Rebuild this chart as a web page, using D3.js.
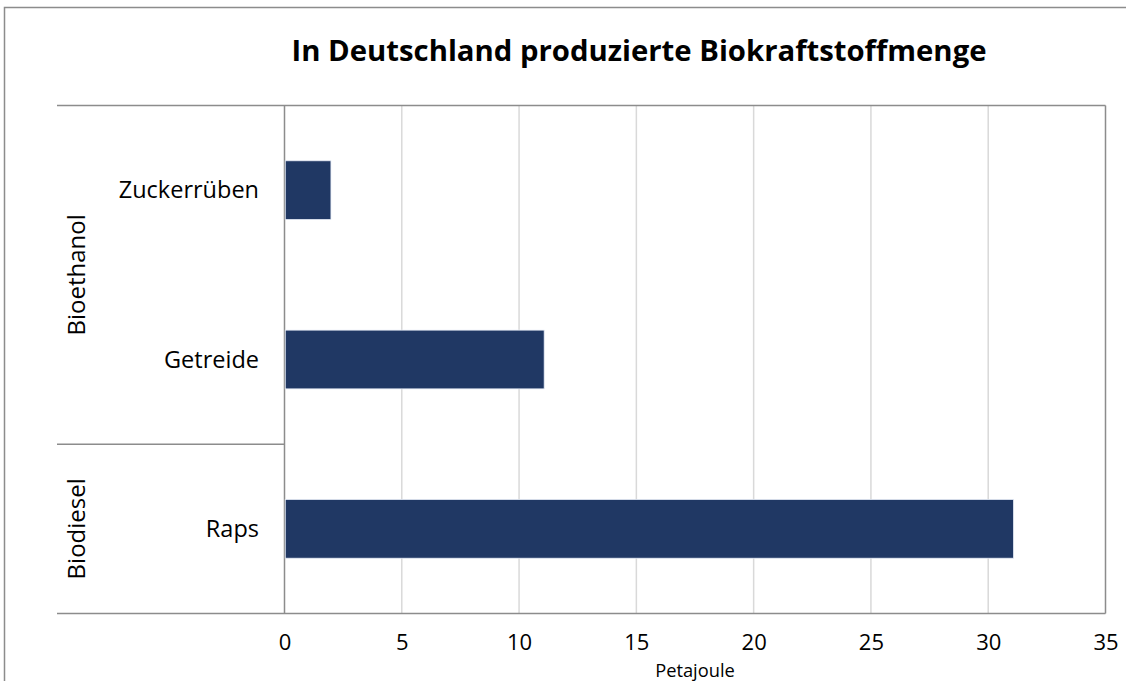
<!DOCTYPE html>
<html>
<head>
<meta charset="utf-8">
<script src="https://cdn.jsdelivr.net/npm/d3@7"></script>
<style>
  body { margin: 0; background: #fff; }
  text { font-family: "Open Sans", sans-serif; fill: #000; }
</style>
</head>
<body>
<svg width="1126" height="681"></svg>
<script>
// data
var categories = ["Zuckerrüben", "Getreide", "Raps"];
var groupOf = ["Bioethanol", "Bioethanol", "Biodiesel"];
var groups = ["Bioethanol", "Biodiesel"];
var values = [1.98, 11.07, 31.08];
var xTicks = [0, 5, 10, 15, 20, 25, 30, 35];
var title = "In Deutschland produzierte Biokraftstoffmenge";
var xTitle = "Petajoule";

var svg = d3.select("svg");

// outer frame, cut off at right and bottom like the picture
svg.append("rect")
    .attr("x", 4.5).attr("y", 7.5)
    .attr("width", 1140).attr("height", 700)
    .attr("fill", "none")
    .attr("stroke", "#8c8c8c")
    .attr("stroke-width", 1.5);

var plotL = 284.5, plotR = 1105.5, plotT = 105.5, plotB = 613.5;
var catLeft = 57;

var x = d3.scaleLinear().domain([0, 35]).range([plotL, plotR]);
var y = d3.scaleBand().domain(categories).range([plotT, plotB])
    .paddingInner(0.653).paddingOuter(0.3265);
var yStep = d3.scaleBand().domain(categories).range([plotT, plotB]);

svg.append("text")
    .attr("x", 639).attr("y", 61)
    .attr("text-anchor", "middle")
    .attr("font-size", "29.3px")
    .attr("font-weight", "bold")
    .text(title);

// gridlines
svg.append("g").selectAll("line").data(xTicks.slice(1, -1)).enter().append("line")
    .attr("x1", function(d){ return x(d); }).attr("x2", function(d){ return x(d); })
    .attr("y1", plotT).attr("y2", plotB)
    .attr("stroke", "#d9d9d9").attr("stroke-width", 1.5);

// frame of plot
var axisColor = "#8c8c8c";
svg.append("line").attr("x1", catLeft).attr("x2", plotR).attr("y1", plotT).attr("y2", plotT)
    .attr("stroke", axisColor).attr("stroke-width", 1.5);
svg.append("line").attr("x1", catLeft).attr("x2", plotR).attr("y1", plotB).attr("y2", plotB)
    .attr("stroke", axisColor).attr("stroke-width", 1.5);
svg.append("line").attr("x1", plotR).attr("x2", plotR).attr("y1", plotT).attr("y2", plotB)
    .attr("stroke", axisColor).attr("stroke-width", 1.5);
svg.append("line").attr("x1", plotL).attr("x2", plotL).attr("y1", plotT).attr("y2", plotB)
    .attr("stroke", axisColor).attr("stroke-width", 1.5);

// group separators
var groupSpans = groups.map(function(g){
    var cats = categories.filter(function(c, i){ return groupOf[i] === g; });
    return {
        name: g,
        y0: yStep(cats[0]),
        y1: yStep(cats[cats.length - 1]) + yStep.bandwidth()
    };
});
groupSpans.slice(0, -1).forEach(function(s){
    svg.append("line").attr("x1", catLeft).attr("x2", plotL)
        .attr("y1", s.y1).attr("y2", s.y1)
        .attr("stroke", axisColor).attr("stroke-width", 1.5);
});

// bars
svg.append("g").selectAll("rect").data(categories).enter().append("rect")
    .attr("x", x(0) + 0.75)
    .attr("y", function(d){ return y(d); })
    .attr("width", function(d, i){ return x(values[i]) - x(0) - 0.75; })
    .attr("height", y.bandwidth())
    .attr("fill", "#203864")
    .attr("stroke", "#e8eef8")
    .attr("stroke-width", 0.8);

// category labels
svg.append("g").selectAll("text").data(categories).enter().append("text")
    .attr("x", 259)
    .attr("y", function(d){ return y(d) + y.bandwidth() / 2; })
    .attr("dy", "0.35em")
    .attr("text-anchor", "end")
    .attr("font-size", "23.5px")
    .text(function(d){ return d; });

// group labels
svg.append("g").selectAll("text").data(groupSpans).enter().append("text")
    .attr("transform", function(s){ return "translate(77," + ((s.y0 + s.y1) / 2) + ") rotate(-90)"; })
    .attr("dy", "0.35em")
    .attr("text-anchor", "middle")
    .attr("font-size", "24px")
    .text(function(s){ return s.name; });

// x axis labels
var xAxis = d3.axisBottom(x).tickValues(xTicks).tickSize(0).tickPadding(21);
var ax = svg.append("g").attr("transform", "translate(0," + plotB + ")").call(xAxis);
ax.select(".domain").remove();
ax.selectAll("text").attr("font-size", "22px").attr("font-family", "Open Sans, sans-serif").attr("fill", "#000");

svg.append("text")
    .attr("x", 695).attr("y", 677)
    .attr("text-anchor", "middle")
    .attr("font-size", "18.3px")
    .text(xTitle);
</script>
</body>
</html>
